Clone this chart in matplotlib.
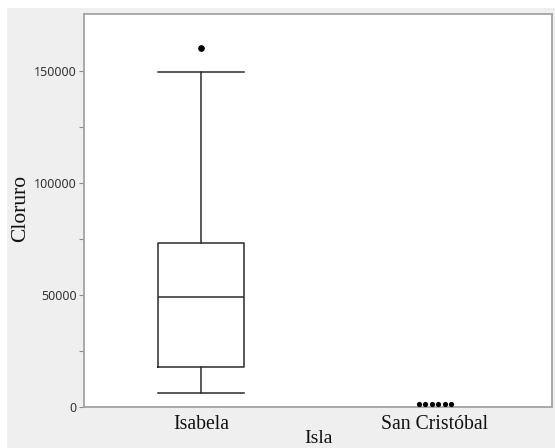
import matplotlib
matplotlib.use("Agg")
import matplotlib.pyplot as plt
from matplotlib.patches import Rectangle
import numpy as np

# Chloride (Cloruro) by island
islands = ["Isabela", "San Cristóbal"]

# Isabela box summary
isabela_q1 = 17700
isabela_median = 49000
isabela_q3 = 73400
isabela_whislo = 6400
isabela_whishi = 149600
isabela_outliers = [160500]

# San Cristóbal individual values
san_cristobal_values = [1250, 1200, 1250, 1200, 1250, 1200]

y_major_ticks = [0, 50000, 100000, 150000]
y_minor_ticks = [25000, 75000, 125000]

W, H = 555, 448
fig = plt.figure(figsize=(W / 100, H / 100), dpi=100, facecolor="white")

# light gray panel behind the plot
fig.patches.append(Rectangle((7 / W, 0), 1 - 7 / W, 1 - 8 / H,
                             transform=fig.transFigure, facecolor="#efefef",
                             edgecolor="none", zorder=-10))

left, right = 84 / W, 552 / W
bottom, top = 1 - 407 / H, 1 - 14.5 / H
ax = fig.add_axes([left, bottom, right - left, top - bottom])
ax.set_facecolor("white")

box_color = "#2b2b2b"
stats = [{
    "med": isabela_median, "q1": isabela_q1, "q3": isabela_q3,
    "whislo": isabela_whislo, "whishi": isabela_whishi,
    "fliers": isabela_outliers,
}]
ax.bxp(stats, positions=[0], widths=0.368, showcaps=True,
       boxprops=dict(color=box_color, linewidth=1.1),
       medianprops=dict(color=box_color, linewidth=1.1),
       whiskerprops=dict(color=box_color, linewidth=1.1),
       capprops=dict(color=box_color, linewidth=1.1),
       capwidths=0.368,
       flierprops=dict(marker="o", markersize=3.8, markerfacecolor="black",
                       markeredgecolor="black"))

# stacked points for San Cristóbal, spread side by side
n = len(san_cristobal_values)
offsets = (np.arange(n) - (n - 1) / 2) * 0.0271
ax.scatter(1 + offsets, san_cristobal_values, s=14, color="black", zorder=3,
           linewidths=0)

ax.set_xlim(-0.5, 1.5)
ax.set_ylim(0, 175400)
ax.set_xticks([0, 1])
ax.set_xticklabels(islands, family="Liberation Serif", fontsize=14.2,
                   color="#111111")
ax.tick_params(axis="x", length=0, pad=5.4)

ax.set_yticks(y_major_ticks)
ax.set_yticklabels([str(v) for v in y_major_ticks], family="Noto Sans",
                   fontsize=9.0, color="#333333")
ax.set_yticks(y_minor_ticks, minor=True)
ax.tick_params(axis="y", which="both", length=3.6, width=0.8,
               color="#8c8c8c", pad=1.8)

for s in ax.spines.values():
    s.set_color("#a3a3a3")
    s.set_linewidth(1.3)

ax.set_ylabel("Cloruro", family="Liberation Serif", fontsize=15.5,
              color="#111111", va="center")
ax.yaxis.set_label_coords((21 - 84) / 468, (407 - 208) / 392.5)
ax.set_xlabel("Isla", family="Liberation Serif", fontsize=14,
              color="#111111", va="top")
ax.xaxis.set_label_coords(0.5, (407 - 430) / 392.5)

fig.savefig("out.png", dpi=100, facecolor=fig.get_facecolor())
